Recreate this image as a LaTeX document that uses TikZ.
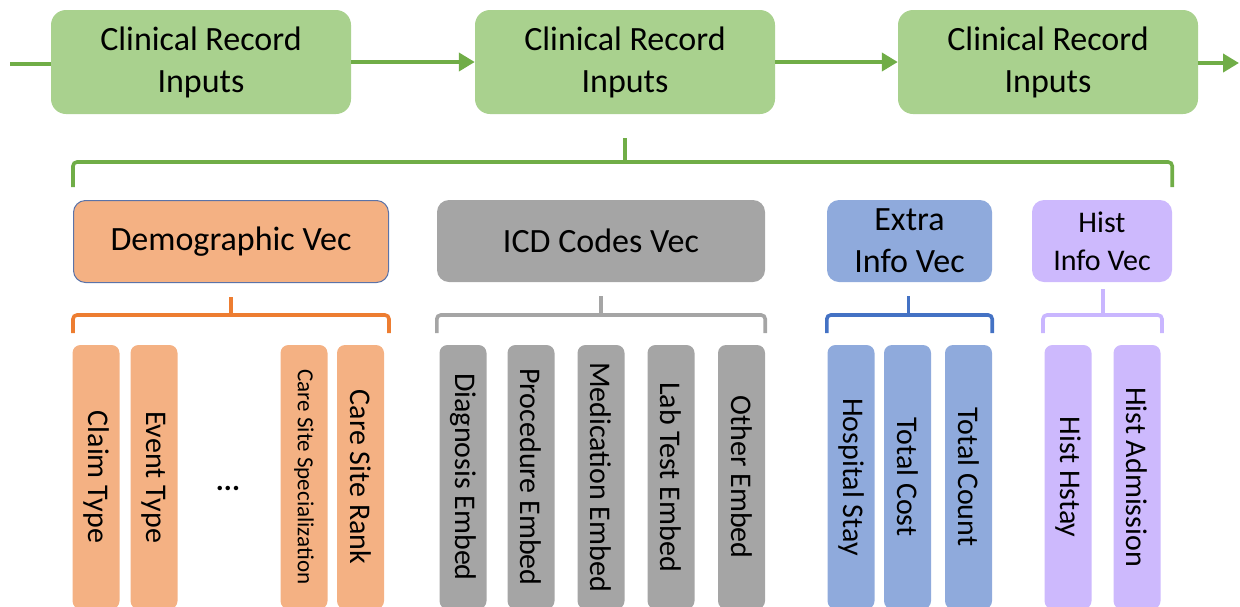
\documentclass[tikz,border=0pt]{standalone}
\usepackage{fontspec}
\setmainfont{Carlito}
\usetikzlibrary{arrows.meta,calc}

\definecolor{grnfill}{HTML}{A9D18E}
\definecolor{grnline}{HTML}{70AD47}
\definecolor{orgfill}{HTML}{F4B183}
\definecolor{orgline}{HTML}{ED7D31}
\definecolor{gryfill}{HTML}{A5A5A5}
\definecolor{gryline}{HTML}{A5A5A5}
\definecolor{blufill}{HTML}{8FAADC}
\definecolor{bluline}{HTML}{4472C4}
\definecolor{purfill}{HTML}{CDB9FD}
\definecolor{purline}{HTML}{C9B6FF}
\definecolor{demoedge}{HTML}{5B73A8}

% group brace: style, left point, right point, tip point, bar level, foot level
\newcommand\grpbrace[6]{%
  \draw[#1,rounded corners=4pt] (#2 |- #6) -- (#2 |- #5) -- (#3 |- #5) -- (#3 |- #6);
  \draw[#1] (#4 |- #5) -- (#4);
}

\tikzset{
  inbox/.style={rectangle, rounded corners=15pt, fill=grnfill, draw=none,
    minimum width=300pt, minimum height=104pt, align=center,
    font=\fontsize{34}{42}\selectfont},
  vecbox/.style={rectangle, rounded corners=12pt, draw=none,
    minimum height=82pt, align=center, inner sep=0pt,
    font=\fontsize{34}{42}\selectfont},
  bar/.style={rectangle, rounded corners=8pt, rotate=-90, draw=none,
    minimum width=264pt, minimum height=47pt, inner sep=0pt,
    font=\fontsize{30}{36}\selectfont},
  flow/.style={draw=grnline, line width=4pt},
  flowarrow/.style={flow, -{Triangle[length=16pt,width=18pt]}},
  brc/.style={line width=3.6pt},
}

\begin{document}
\begin{tikzpicture}[x=1pt,y=-1pt]
\useasboundingbox (0,0) rectangle (1240,606);

% top row of inputs
\node[inbox] (in1) at (201,62) {Clinical Record\\Inputs};
\node[inbox] (in2) at (625,62) {Clinical Record\\Inputs};
\node[inbox] (in3) at (1048,62) {Clinical Record\\Inputs};

\coordinate (start) at (10,64);
\coordinate (finish) at (1239,63);
\draw[flow] (start) -- (in1.west |- start);
\draw[flowarrow] (in1.east) -- (in2.west);
\draw[flowarrow] (in2.east) -- (in3.west);
\draw[flowarrow] (in3.east |- finish) -- (finish);

% vector groups
\node[vecbox, fill=orgfill, draw=demoedge, line width=1pt, minimum width=315pt] (demo) at (231,241.5) {Demographic Vec};
\node[vecbox, fill=gryfill, minimum width=328pt] (icd) at (601,241) {ICD Codes Vec};
\node[vecbox, fill=blufill, minimum width=165pt] (extra) at (909.5,241) {Extra\\Info Vec};
\node[vecbox, fill=purfill, minimum width=140pt, font=\fontsize{30}{38}\selectfont] (hist) at (1102,241) {Hist\\Info Vec};

% brace levels
\coordinate (gbar) at (0,162);
\coordinate (gfoot) at (0,187);
\coordinate (gtip) at ($(in2.south)+(0,24)$);
\coordinate (sbar) at (0,315);
\coordinate (sfoot) at (0,333);
\coordinate (otip) at ($(demo.south)+(0,14)$);
\coordinate (ctip) at ($(icd.south)+(0,14)$);
\coordinate (btip) at ($(extra.south)+(-1,14)$);
\coordinate (ptip) at ($(hist.south)+(1,7)$);
\coordinate (pl) at ($(hist.south)+(-59,0)$);
\coordinate (pr) at ($(hist.south)+(60,0)$);

\grpbrace{brc,draw=grnline}{demo.west}{hist.east}{gtip}{gbar}{gfoot}
\grpbrace{brc,draw=orgline}{demo.west}{demo.east}{otip}{sbar}{sfoot}
\grpbrace{brc,draw=gryline}{icd.west}{icd.east}{ctip}{sbar}{sfoot}
\grpbrace{brc,draw=bluline}{extra.west}{extra.east}{btip}{sbar}{sfoot}
\grpbrace{brc,draw=purline}{pl}{pr}{ptip}{sbar}{sfoot}

% demographic fields
\node[bar, fill=orgfill] (claim) at (96,477) {Claim Type};
\node[bar, fill=orgfill] (event) at (154,477) {Event Type};
\node[font=\fontsize{30}{36}\bfseries] (dots) at (228,488) {...};
\node[bar, fill=orgfill, font=\fontsize{23}{28}\selectfont] (cspec) at (304,477) {Care Site Specialization};
\node[bar, fill=orgfill] (crank) at (360.5,477) {Care Site Rank};

% code embeddings
\node[bar, fill=gryfill] (diag) at (463,477) {Diagnosis Embed};
\node[bar, fill=gryfill] (proc) at (531,477) {Procedure Embed};
\node[bar, fill=gryfill] (med) at (601,477) {Medication Embed};
\node[bar, fill=gryfill] (lab) at (671,477) {Lab Test Embed};
\node[bar, fill=gryfill] (other) at (741.5,477) {Other Embed};

% extra information
\node[bar, fill=blufill] (hstay) at (851,477) {Hospital Stay};
\node[bar, fill=blufill] (tcost) at (907.5,477) {Total Cost};
\node[bar, fill=blufill] (tcount) at (968.5,477) {Total Count};

% history
\node[bar, fill=purfill] (hhstay) at (1068,477) {Hist Hstay};
\node[bar, fill=purfill] (hadm) at (1137,477) {Hist Admission};
\end{tikzpicture}
\end{document}
